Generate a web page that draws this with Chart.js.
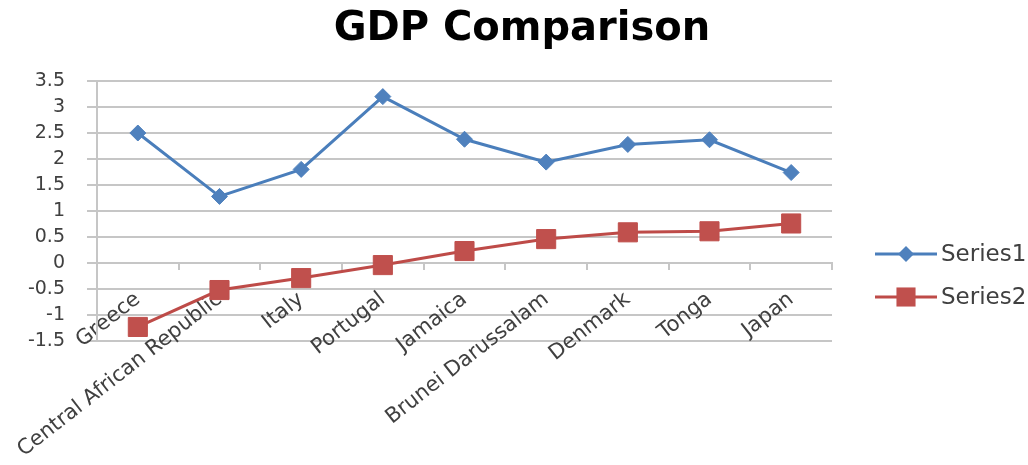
<!DOCTYPE html>
<html>
<head>
<meta charset="utf-8">
<script src="https://cdn.jsdelivr.net/npm/chart.js@4/dist/chart.umd.min.js"></script>
<style>
html,body{margin:0;padding:0;background:#fff;}
#wrap{width:1028px;height:465px;}
</style>
</head>
<body>
<div id="wrap"><canvas id="c" width="1028" height="465"></canvas></div>
<script>
const categories = ['Greece','Central African Republic','Italy','Portugal','Jamaica','Brunei Darussalam','Denmark','Tonga','Japan'];
const series1 = [2.5, 1.28, 1.8, 3.2, 2.38, 1.94, 2.28, 2.37, 1.74];
const series2 = [-1.23, -0.52, -0.29, -0.04, 0.23, 0.46, 0.59, 0.61, 0.76];
const seriesNames = ['Series1', 'Series2'];
const yTickLabels = ['-1.5','-1','-0.5','0','0.5','1','1.5','2','2.5','3','3.5'];
const yMin = -1.5, yMax = 3.5, yStep = 0.5;

const FONT = "'DejaVu Sans', sans-serif";
const GRID = '#c6c6c6';

const legendPlugin = {
  id: 'excelLegend',
  afterDraw(chart) {
    const ctx = chart.ctx, ca = chart.chartArea;
    chart.data.datasets.forEach((ds, i) => {
      const y = ca.top + 173 + i * 43;
      const x0 = ca.right + 43, x1 = x0 + 62, xm = (x0 + x1) / 2;
      ctx.save();
      ctx.strokeStyle = ds.borderColor;
      ctx.lineWidth = ds.borderWidth;
      ctx.beginPath(); ctx.moveTo(x0, y); ctx.lineTo(x1, y); ctx.stroke();
      ctx.fillStyle = ds.pointBackgroundColor;
      ctx.beginPath();
      const r = ds.pointRadius;
      if (ds.pointStyle === 'rectRot') {
        ctx.moveTo(xm, y - r); ctx.lineTo(xm + r, y); ctx.lineTo(xm, y + r); ctx.lineTo(xm - r, y); ctx.closePath();
      } else {
        const s = r * Math.SQRT1_2;
        ctx.rect(xm - s, y - s, 2 * s, 2 * s);
      }
      ctx.fill();
      ctx.fillStyle = '#404040';
      ctx.font = "23px " + FONT;
      ctx.textAlign = 'left';
      ctx.textBaseline = 'middle';
      ctx.fillText(ds.label, x1 + 4, y + 1);
      ctx.restore();
    });
  }
};

new Chart(document.getElementById('c'), {
  type: 'line',
  data: {
    labels: categories,
    datasets: [
      {
        label: seriesNames[0], data: series1,
        borderColor: '#4a7ebb', backgroundColor: '#4f81bd',
        pointBackgroundColor: '#4f81bd', pointBorderColor: '#4f81bd',
        borderWidth: 3, pointStyle: 'rectRot', pointRadius: 8, pointBorderWidth: 1,
        tension: 0, clip: false
      },
      {
        label: seriesNames[1], data: series2,
        borderColor: '#be4b48', backgroundColor: '#c0504d',
        pointBackgroundColor: '#c0504d', pointBorderColor: '#c0504d',
        borderWidth: 3, pointStyle: 'rect', pointRadius: 13.5, pointBorderWidth: 1,
        tension: 0, clip: false
      }
    ]
  },
  options: {
    responsive: false,
    animation: false,
    devicePixelRatio: 1,
    layout: { padding: { left: 16, right: 0, top: 0, bottom: 124 } },
    plugins: {
      legend: { display: false },
      tooltip: { enabled: false },
      title: {
        display: true, text: 'GDP Comparison', color: '#000',
        font: { family: FONT, size: 40, weight: 'bold' },
        padding: { top: 6, bottom: 27 }
      }
    },
    scales: {
      x: {
        type: 'category', axis: 'x',
        position: { y: 0 },
        offset: true,
        grid: { display: true, drawOnChartArea: false, drawTicks: true, tickLength: 6, offset: true, color: GRID, lineWidth: 2 },
        border: { display: true, color: GRID, width: 2 },
        ticks: {
          autoSkip: false, maxRotation: 38, minRotation: 38, padding: 18,
          color: '#404040', font: { family: FONT, size: 21 }
        }
      },
      y: {
        position: 'left',
        min: yMin, max: yMax,
        afterFit(scale) { scale.width = 81; },
        grid: { color: GRID, lineWidth: 2, drawTicks: true, tickLength: 10 },
        border: { display: true, color: GRID, width: 2 },
        ticks: {
          stepSize: yStep, padding: 22, color: '#404040', font: { family: FONT, size: 19 },
          callback: (v, i) => yTickLabels[i]
        }
      },
      yRight: {
        type: 'linear', axis: 'y', position: 'right',
        display: true,
        afterFit(scale) { scale.width = 196; },
        grid: { display: false, drawTicks: false },
        border: { display: false },
        ticks: { display: false }
      }
    }
  },
  plugins: [legendPlugin]
});
</script>
</body>
</html>
